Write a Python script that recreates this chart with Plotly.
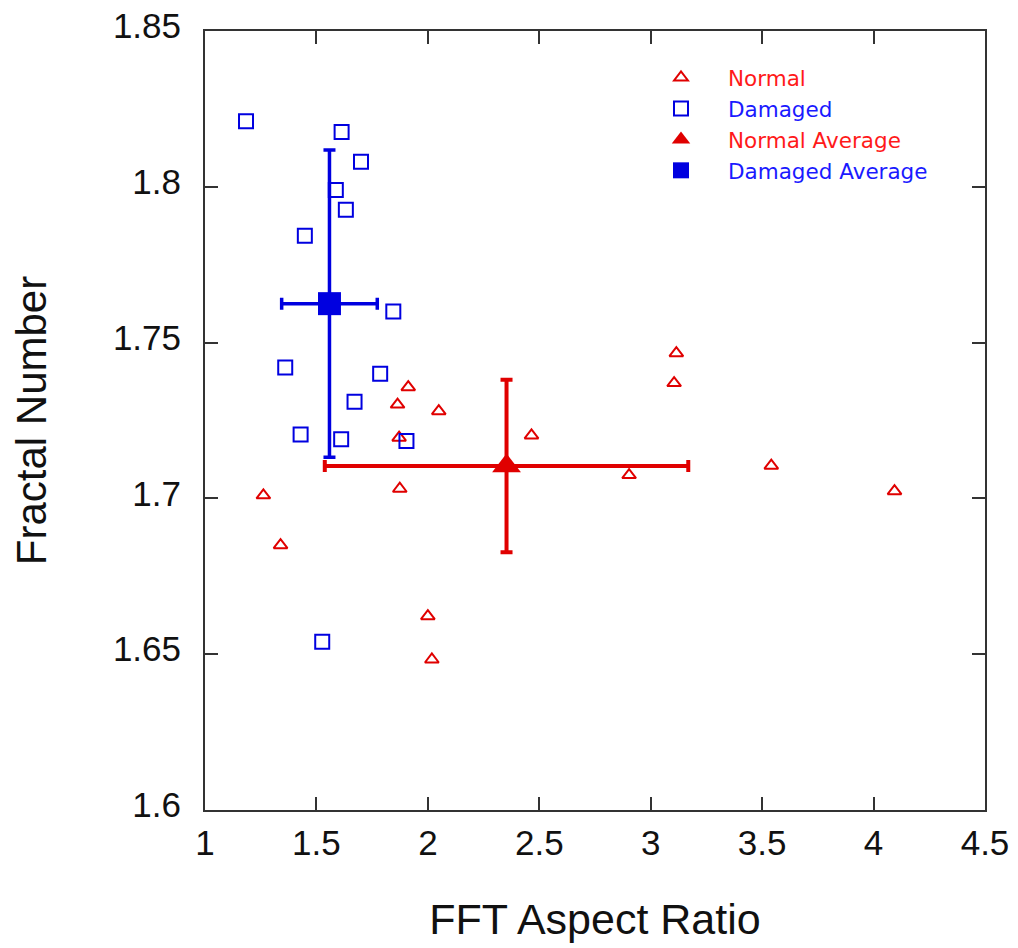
import plotly.graph_objects as go

# ---- data ----
normal_x = [1.912, 1.864, 2.049, 1.871, 1.262, 1.874, 1.339, 2.000, 2.018,
            3.115, 3.105, 2.465, 2.903, 3.541, 4.094]
normal_y = [1.7357, 1.7301, 1.7280, 1.7195, 1.7010, 1.7031, 1.6850, 1.6622, 1.6483,
            1.7466, 1.7370, 1.7202, 1.7075, 1.7105, 1.7023]

damaged_x = [1.184, 1.613, 1.700, 1.587, 1.632, 1.448, 1.845, 1.360, 1.786,
             1.671, 1.429, 1.611, 1.904, 1.526]
damaged_y = [1.8210, 1.8176, 1.8080, 1.7990, 1.7926, 1.7843, 1.7600, 1.7420, 1.7400,
             1.7310, 1.7205, 1.7190, 1.7184, 1.6540]

normal_avg_x = [2.353]
normal_avg_y = [1.7104]
normal_err_x = [0.8155]
normal_err_y = [0.0277]

damaged_avg_x = [1.5585]
damaged_avg_y = [1.7625]
damaged_err_x = [0.2145]
damaged_err_y = [0.0493]

x_ticks = [1, 1.5, 2, 2.5, 3, 3.5, 4, 4.5]
x_ticktext = ["1", "1.5", "2", "2.5", "3", "3.5", "4", "4.5"]
y_ticks = [1.6, 1.65, 1.7, 1.75, 1.8, 1.85]
y_ticktext = ["1.6", "1.65", "1.7", "1.75", "1.8", "1.85"]

RED = "#e00000"
BLUE = "#0000e0"
FONT = "Liberation Sans, Arial, sans-serif"

fig = go.Figure()

fig.add_trace(go.Scatter(
    x=normal_x, y=normal_y, mode="markers",
    name="<span style='color:#ff1a1a'>Normal</span>",
    marker=dict(symbol="triangle-up-open", size=12, color=RED, line=dict(width=2, color=RED)),
))
fig.add_trace(go.Scatter(
    x=damaged_x, y=damaged_y, mode="markers",
    name="<span style='color:#1a1aff'>Damaged</span>",
    marker=dict(symbol="square-open", size=14, color=BLUE, line=dict(width=2, color=BLUE)),
))
fig.add_trace(go.Scatter(
    x=normal_avg_x, y=normal_avg_y, mode="markers",
    name="<span style='color:#ff1a1a'>Normal Average</span>",
    marker=dict(symbol="triangle-up", size=25, color=RED),
    error_x=dict(type="data", array=normal_err_x, color=RED, thickness=4, width=6),
    error_y=dict(type="data", array=normal_err_y, color=RED, thickness=4, width=6),
))
fig.add_trace(go.Scatter(
    x=damaged_avg_x, y=damaged_avg_y, mode="markers",
    name="<span style='color:#1a1aff'>Damaged Average</span>",
    marker=dict(symbol="square", size=23, color=BLUE),
    error_x=dict(type="data", array=damaged_err_x, color=BLUE, thickness=3.5, width=6),
    error_y=dict(type="data", array=damaged_err_y, color=BLUE, thickness=3.5, width=6),
))

axis_common = dict(
    showgrid=False, zeroline=False, showline=True, linecolor="#333333", linewidth=2,
    mirror="allticks", ticks="inside", ticklen=13, tickwidth=2, tickcolor="#333333",
    tickfont=dict(family=FONT, size=35, color="#111111"), automargin=False,
    ticklabeloverflow="allow",
)

fig.update_xaxes(
    range=[1, 4.5], tickvals=x_ticks, ticktext=x_ticktext,
    title=dict(text="FFT Aspect Ratio", font=dict(family=FONT, size=43, color="#111111"), standoff=43),
    ticklabelstandoff=1,
    **axis_common,
)
fig.update_yaxes(
    range=[1.6, 1.85], tickvals=y_ticks, ticktext=y_ticktext,
    title=dict(text="Fractal Number", font=dict(family=FONT, size=42, color="#111111"), standoff=54),
    ticklabelstandoff=15, ticklabelshift=-5,
    **axis_common,
)

fig.update_layout(
    width=1018, height=948,
    margin=dict(l=197, r=41, t=23, b=146, autoexpand=False),
    paper_bgcolor="white", plot_bgcolor="white",
    showlegend=True,
    legend=dict(
        x=(634 - 205) / 780, y=1 - 26 / 779, xanchor="left", yanchor="top",
        bgcolor="rgba(0,0,0,0)", borderwidth=0, itemwidth=84,
        font=dict(family="DejaVu Sans, Verdana, sans-serif", size=21.5),
        tracegroupgap=0,
    ),
)

fig.write_html("out.html")
